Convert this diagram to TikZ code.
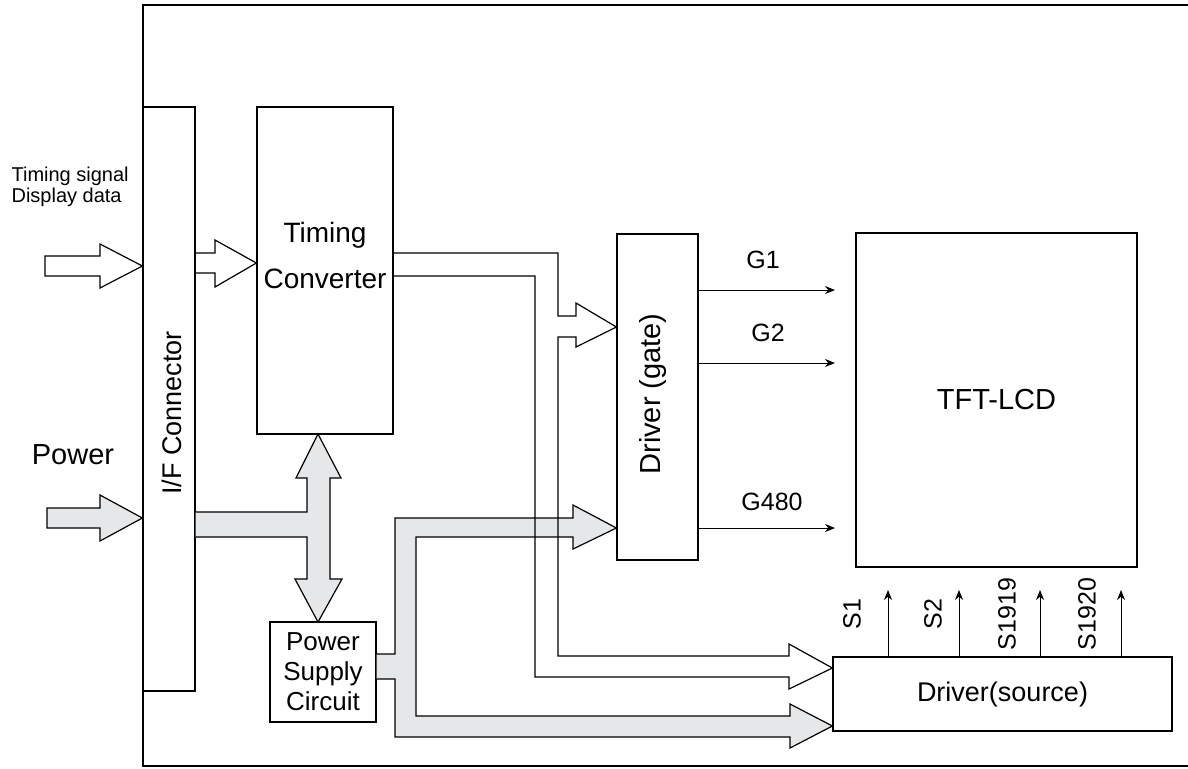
\documentclass[tikz,border=0pt]{standalone}
\usepackage{fontspec}
\setmainfont{Liberation Sans}
\usetikzlibrary{arrows.meta}
\definecolor{busgray}{RGB}{230,231,232}

\begin{document}
\begin{tikzpicture}[x=0.5pt, y=-0.5pt, >={Stealth[length=5pt,width=4pt]}, line width=0.6pt,
  box/.style={draw, inner sep=0pt},
  wbus/.style={draw, line join=miter},
  gbus/.style={draw, fill=busgray, line join=miter},
  big/.style={font=\fontsize{14}{16}\selectfont},
  lbl/.style={font=\fontsize{12.5}{14}\selectfont, inner sep=0pt}]
  \useasboundingbox (0,0) rectangle (1188,768);
  % outer frame (open to the right)
  \draw[line width=0.9pt] (1188,5) -- (143,5) -- (143,766) -- (1188,766);
  % blocks
  \node[box, minimum width=26pt, minimum height=292pt] (ifc) at (169,399) {};
  \node[big, rotate=90, font=\fontsize{13.5}{16}\selectfont] (ifctext) at (172,413) {I/F Connector};
  \node[box, minimum width=68pt, minimum height=163.5pt] (tc) at (325,270.5) {};
  \node[big, align=center, font=\fontsize{14}{23}\selectfont] (tctext) at (325,255) {Timing\\Converter};
  \node[box, minimum width=40.5pt, minimum height=163pt] (gate) at (657.5,397) {};
  \node[rotate=90, font=\fontsize{14.5}{16}\selectfont] (gatetext) at (653,394) {Driver (gate)};
  \node[box, minimum width=140.5pt, minimum height=167pt, font=\fontsize{14.5}{16}\selectfont] (lcd) at (996.5,400) {TFT-LCD};
  \node[box, minimum width=169.5pt, minimum height=37pt, font=\fontsize{13.5}{16}\selectfont] (src) at (1002.5,694) {Driver(source)};
  \node[box, minimum width=53pt, minimum height=50pt, align=center, font=\fontsize{13}{15}\selectfont] (psc) at (323,672) {Power\\Supply\\Circuit};
  % inputs
  \node[anchor=west, align=left, font=\fontsize{10}{10.5}\selectfont, inner sep=0pt] (sig) at (11,186.5) {Timing signal\\Display data};
  \node[font=\fontsize{14.5}{16}\selectfont] (pwr) at (73,455) {Power};
  \draw[wbus] (45,256) -- (100,256) -- (100,244) -- (ifc.west |- 0,266) -- (100,288) -- (100,276) -- (45,276) -- cycle;
  \draw[gbus] (47,508) -- (100,508) -- (100,495) -- (ifc.west |- 0,518) -- (100,541) -- (100,528) -- (47,528) -- cycle;
  \draw[wbus] (ifc.east |- 0,253) -- (215,253) -- (215,240) -- (tc.west |- 0,263) -- (215,287) -- (215,273) -- (ifc.east |- 0,273);
  % power buses
  \draw[gbus] (ifc.east |- 0,512) -- (307,512) -- (307,478) -- (296,478) -- (318,434) -- (341,478) -- (330,478)
    -- (330,579) -- (342,579) -- (318,622) -- (295,579) -- (307,579) -- (307,537) -- (ifc.east |- 0,537);
  \draw[gbus] (psc.east |- 0,654) -- (395,654) -- (395,518) -- (573,518) -- (573,505) -- (gate.west |- 0,528)
    -- (573,549) -- (573,537) -- (416,537) -- (416,716) -- (790,716) -- (790,704) -- (src.west |- 0,726)
    -- (790,748) -- (790,737) -- (395,737) -- (395,679) -- (psc.east |- 0,679);
  % signal bus to both drivers
  \draw[wbus] (tc.east |- 0,253) -- (558,253) -- (558,316) -- (576,316) -- (576,303) -- (gate.west |- 0,327)
    -- (576,347) -- (576,337) -- (558,337) -- (558,656) -- (789,656) -- (789,644) -- (src.west |- 0,668)
    -- (789,689) -- (789,677) -- (535,677) -- (535,276) -- (tc.east |- 0,276);
  % gate lines
  \foreach \y/\g/\gx/\gy in {290/G1/763/260, 363/G2/768/333, 528/G480/772/502} {
    \draw[->, line width=0.5pt] (gate.east |- 0,\y) -- (835,\y);
    \node[lbl] (\g) at (\gx,\gy) {\g};
  }
  % source lines
  \foreach \x/\s/\sx in {888/S1/852, 959/S2/933, 1040/S1919/1007, 1121/S1920/1087} {
    \draw[->, line width=0.5pt] (src.north -| \x,0) -- (\x,590);
    \node[lbl, rotate=90] (\s) at (\sx,614) {\s};
  }
\end{tikzpicture}
\end{document}
